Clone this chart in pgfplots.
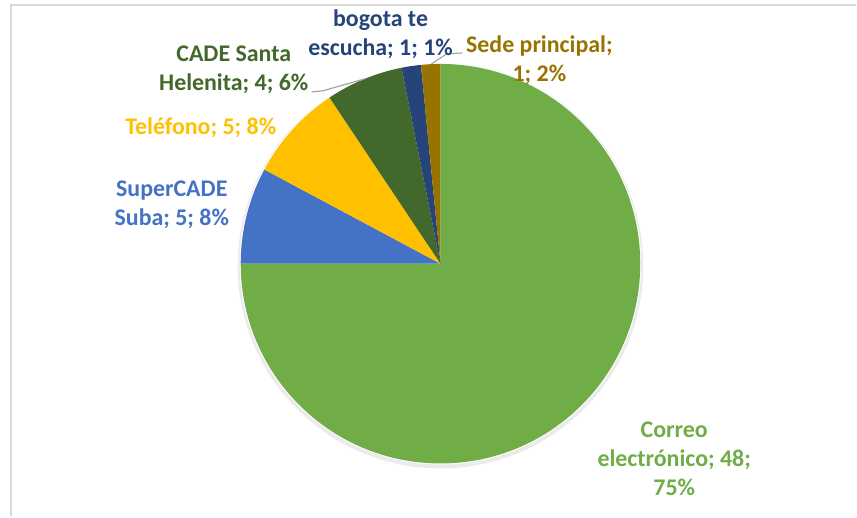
\documentclass[border=0pt]{standalone}
\usepackage{pgfplots}
\usepackage{pgfplotstable}
\pgfplotsset{compat=1.18}
\usepackage{fontspec}
\setmainfont{Carlito}
\definecolor{cCorreo}{HTML}{70AD47}
\definecolor{cSuper}{HTML}{4472C4}
\definecolor{cTel}{HTML}{FFC000}
\definecolor{cCade}{HTML}{43682B}
\definecolor{cBog}{HTML}{264478}
\definecolor{cSede}{HTML}{997300}
\definecolor{cFrame}{HTML}{D9D9D9}
\definecolor{cLead}{HTML}{A6A6A6}
\tikzset{lbl/.style={font=\fontsize{24}{29}\selectfont\bfseries, align=center, inner sep=0pt}}
\pgfplotstableread{
label value
Correo 48
SuperCADE 5
Telefono 5
CADE 4
bogota 1
Sede 1
}\pietable
\pgfplotstablegetelem{0}{value}\of\pietable \let\vA\pgfplotsretval
\pgfplotstablegetelem{1}{value}\of\pietable \let\vB\pgfplotsretval
\pgfplotstablegetelem{2}{value}\of\pietable \let\vC\pgfplotsretval
\pgfplotstablegetelem{3}{value}\of\pietable \let\vD\pgfplotsretval
\pgfplotstablegetelem{4}{value}\of\pietable \let\vE\pgfplotsretval
\pgfplotstablegetelem{5}{value}\of\pietable \let\vF\pgfplotsretval
\pgfmathsetmacro\tot{\vA+\vB+\vC+\vD+\vE+\vF}
\pgfmathsetmacro\aA{90}
\pgfmathsetmacro\aB{\aA-360*(\vA/\tot)}
\pgfmathsetmacro\aC{\aB-360*(\vB/\tot)}
\pgfmathsetmacro\aD{\aC-360*(\vC/\tot)}
\pgfmathsetmacro\aE{\aD-360*(\vD/\tot)}
\pgfmathsetmacro\aF{\aE-360*(\vE/\tot)}
\pgfmathsetmacro\aG{\aF-360*(\vF/\tot)}
\newcommand\slice[3]{\fill[#3] (axis cs:441,264) -- ++(#1:200bp) arc[start angle=#1, end angle=#2, radius=200bp] -- cycle;}
\begin{document}
\begin{tikzpicture}
\begin{axis}[
  width=857bp, height=517bp, scale only axis,
  xmin=0, xmax=857, ymin=0, ymax=517, y dir=reverse,
  hide axis, clip=false,
]
\fill[white] (axis cs:0,0) rectangle (axis cs:857,517);
\draw[cFrame, line width=2bp] (axis cs:11,517) -- (axis cs:11,5) -- (axis cs:857,5);
\fill[black!8] (axis cs:441,266) circle[radius=203bp];
\fill[white] (axis cs:441,264) circle[radius=201bp];
\slice{\aA}{\aB}{cCorreo}
\slice{\aB}{\aC}{cSuper}
\slice{\aC}{\aD}{cTel}
\slice{\aD}{\aE}{cCade}
\slice{\aE}{\aF}{cBog}
\slice{\aF}{\aG}{cSede}
\draw[cLead, line width=1.2bp] (axis cs:312,92) -- (axis cs:323,91) -- (axis cs:365,79);
\draw[cLead, line width=1.2bp] (axis cs:432,64) -- (axis cs:447,54) -- (axis cs:463,53);
\node[lbl, text=cBog] at (axis cs:381,34) {bogota te\\escucha; 1; 1\%};
\node[lbl, text=cSede] at (axis cs:540,60) {Sede principal;\\1; 2\%};
\node[lbl, text=cCade] at (axis cs:234,70) {CADE Santa\\Helenita; 4; 6\%};
\node[lbl, text=cTel] at (axis cs:201,128) {Teléfono; 5; 8\%};
\node[lbl, text=cSuper] at (axis cs:172,205) {SuperCADE\\Suba; 5; 8\%};
\node[lbl, text=cCorreo] at (axis cs:675,459) {Correo\\electrónico; 48;\\75\%};
\end{axis}
\end{tikzpicture}
\end{document}
